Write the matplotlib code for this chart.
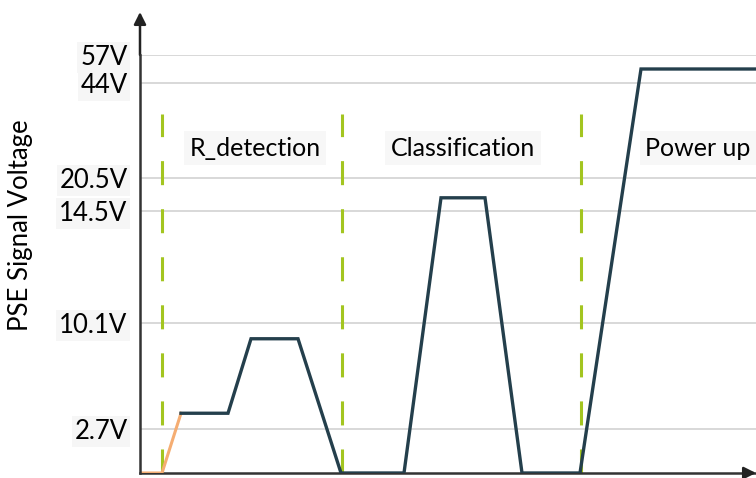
import numpy as np
import matplotlib
matplotlib.use("Agg")
import matplotlib.pyplot as plt
from matplotlib.scale import FuncScale

# ---- data ----
tick_volts = [0, 2.7, 10.1, 14.5, 20.5, 44, 57]
tick_labels = ["", "2.7V", "10.1V", "14.5V", "20.5V", "44V", "57V"]
# schematic (non-linear) vertical position of each tick voltage
tick_pos = [0, 44, 150, 262, 295, 390, 418]

ramp_t = [0, 22, 41]
ramp_v = [0, 0, 3.8]
sig_t = [41, 88, 111, 158, 201, 264, 301, 345, 382, 440, 501, 616]
sig_v = [3.8, 3.8, 9.0, 9.0, 0, 0, 16.9, 16.9, 0, 0, 50.5, 50.5]

phase_t = [22, 202, 441]
phase_names = ["R_detection", "Classification", "Power up"]
phase_label_t = [115, 323, 558]

FONT = "Lato"
plt.rcParams["font.family"] = [FONT, "DejaVu Sans"]
plt.rcParams["lines.scale_dashes"] = False

W, H = 756, 478
fig = plt.figure(figsize=(W / 100, H / 100), dpi=100)
ax = fig.add_axes([140 / W, 5 / H, 616 / W, 418 / H])

fwd = lambda v: np.interp(v, tick_volts, tick_pos)
inv = lambda p: np.interp(p, tick_pos, tick_volts)
ax.set_yscale(FuncScale(ax, (fwd, inv)))
ax.set_ylim(0, 57)
ax.set_xlim(0, 616)

# grid lines
for v in tick_volts[1:]:
    ax.axhline(v, color="#d6d6d6", lw=1.3, zorder=1)

# phase dashed lines
top_frac = (473 - 114) / 418
for t in phase_t:
    ax.plot([t, t], [0, inv(top_frac * 418)], color="#a3c520", lw=2.2,
            linestyle=(0, (17.3, 17.3)), zorder=2, solid_capstyle="butt",
            dash_capstyle="butt")

ax.plot(ramp_t, ramp_v, color="#f5ad72", lw=2.2, zorder=3)
ax.plot(sig_t, sig_v, color="#243f4c", lw=2.4, zorder=4, solid_joinstyle="miter")

for name, t in zip(phase_names, phase_label_t):
    ax.text(t, (473 - 148) / 418, name, transform=ax.get_xaxis_transform(),
            ha="center", va="center", fontsize=18, color="#000000",
            bbox=dict(facecolor="#f7f7f7", edgecolor="none", pad=4), zorder=5)

ax.set_xticks([])
ax.set_yticks(tick_volts[1:])
ax.set_yticklabels(tick_labels[1:])
ax.tick_params(axis="y", length=0, pad=9, labelsize=18.5, labelcolor="#000000")
for lab in ax.get_yticklabels():
    lab.set_bbox(dict(facecolor="#f6f6f6", edgecolor="none", pad=2))

for s in ["top", "right"]:
    ax.spines[s].set_visible(False)
for s in ["left", "bottom"]:
    ax.spines[s].set_color("#333333")
    ax.spines[s].set_linewidth(1.8)
ax.spines["left"].set_zorder(6)

# axis arrows
ax.annotate("", xy=(0, 461 / 418), xytext=(0, 1.0), xycoords="axes fraction",
            arrowprops=dict(arrowstyle="-|>", color="#222222", lw=1.8,
                            mutation_scale=18, shrinkA=0, shrinkB=0),
            annotation_clip=False)
ax.annotate("", xy=(1.0, 0), xytext=(0.98, 0), xycoords="axes fraction",
            arrowprops=dict(arrowstyle="-|>", color="#222222", lw=1.8,
                            mutation_scale=18, shrinkA=0, shrinkB=0),
            annotation_clip=False)

fig.text(21 / W, 1 - 225 / H, "PSE Signal Voltage", rotation=90,
         ha="center", va="center", fontsize=18.5, color="#000000")

fig.savefig("out.png", dpi=100)
